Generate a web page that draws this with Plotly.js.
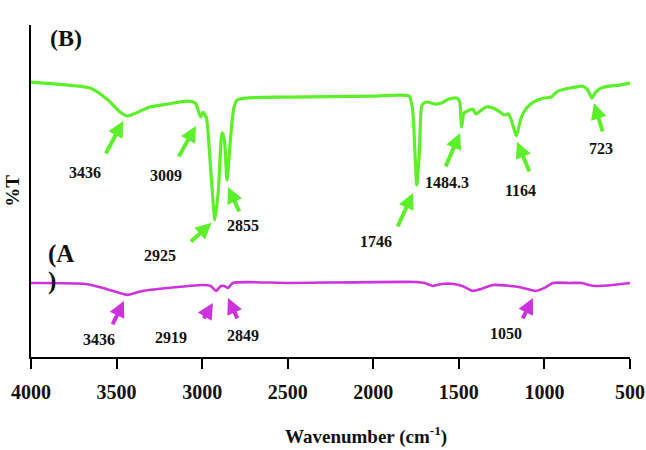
<!DOCTYPE html>
<html>
<head>
<meta charset="utf-8">
<script src="https://cdn.plot.ly/plotly-3.0.1.min.js"></script>
<style>html,body{margin:0;padding:0;background:#fff;}#chart{width:646px;height:450px;}</style>
</head>
<body>
<div id="chart"></div>
<script>
// Wavenumbers (cm-1) and %T (arbitrary offset units)
const wnB = [4000,3850,3655,3550,3480,3436,3400,3305,3200,3088,3040,3009,2995,2975,2950,2925,2905,2884,2870,2855,2835,2815,2796,2750,2500,2000,1850,1790,1770,1746,1730,1715,1690,1640,1600,1560,1530,1510,1495,1484,1470,1450,1420,1400,1375,1340,1300,1260,1235,1210,1190,1164,1140,1120,1080,1040,1000,960,930,880,820,780,750,723,700,670,620,560,500];
const tB  = [82.8,82.2,81.0,77.4,73.8,72.6,73.2,75.3,76.2,77.1,76.5,72.3,73.8,72.0,56.3,41.3,50.4,67.5,65.4,53.3,65.4,75.0,77.4,78.0,78.3,78.6,78.9,78.6,74.4,51.8,62.3,75.9,76.8,76.2,76.5,77.7,78.0,78.0,76.8,69.3,73.5,74.1,74.7,73.2,74.1,75.3,75.0,73.8,72.9,73.2,70.8,66.6,71.4,73.8,76.2,77.4,78.0,78.3,79.8,80.7,81.3,81.6,80.7,78.0,79.8,81.0,81.6,81.9,82.5];

const wnA = [4000,3680,3560,3436,3350,3200,3000,2950,2919,2890,2870,2849,2820,2500,1750,1700,1650,1600,1530,1480,1420,1370,1300,1200,1150,1080,1050,1000,950,850,780,740,700,600,500];
const tA  = [22.3,22.0,20.5,18.7,19.9,20.8,21.7,21.4,19.9,21.4,21.4,20.8,22.3,22.3,22.6,22.3,21.4,22.0,22.0,21.4,19.9,20.5,21.7,21.4,21.1,20.2,19.9,20.8,22.3,22.3,22.3,21.7,21.4,21.7,22.3];

const tickVals = [4000,3500,3000,2500,2000,1500,1000,500];
const tickText = ['4000','3500','3000','2500','2000','1500','1000','500'];

// Peak labels
const peaksB = ['3436','3009','2925','2855','1746','1484.3','1164','723'];
const peaksA = ['3436','2919','2849','1050'];

const GREEN = '#5cf02a';
const MAG = '#cc33dd';
const serif = 'Liberation Serif, Times New Roman, serif';

const traces = [
  {x: wnB, y: tB, mode: 'lines', line: {color: GREEN, width: 3.2, shape: 'spline', smoothing: 0.6}, hoverinfo: 'skip'},
  {x: wnA, y: tA, mode: 'lines', line: {color: MAG, width: 2.6, shape: 'spline', smoothing: 0.6}, hoverinfo: 'skip'}
];

function txt(text, x, y, size, xref, yref) {
  return {text: text, x: x, y: y, xref: xref || 'x', yref: yref || 'y', showarrow: false,
    font: {family: serif, size: size || 16, color: '#111', weight: 'bold'}};
}
function arr(x, y, ax, ay, color) {
  return {text: '', x: x, y: y, xref: 'x', yref: 'y', ax: ax, ay: ay, showarrow: true,
    arrowhead: 2, arrowsize: 0.8, arrowwidth: 4, arrowcolor: color};
}

const ann = [
  txt('(B)', 3795, 96, 24),
  txt('(A', 3825, 31.0, 25),
  txt(')', 3880, 22.9, 25),
  txt(peaksB[0], 3684, 55.7), arr(3462, 71.1, -18, 34, GREEN),
  txt(peaksB[1], 3211, 54.8), arr(3036, 69.6, -18, 32, GREEN),
  txt(peaksB[2], 3246, 30.7), arr(2945, 40.4, -22, 20, GREEN),
  txt(peaksB[3], 2761, 39.5), arr(2849, 51.2, 12, 26, GREEN),
  txt(peaksB[4], 1984, 34.9), arr(1768, 49.4, -16, 35, GREEN),
  txt(peaksB[5], 1569, 52.7), arr(1493, 67.5, -15, 35, GREEN),
  txt(peaksB[6], 1137, 50.3), arr(1160, 64.8, 13, 31, GREEN),
  txt(peaksB[7], 669, 62.9), arr(710, 76.5, 9, 30, GREEN),
  txt(peaksA[0], 3603, 5.4), arr(3457, 16.9, -12, 25, MAG),
  txt(peaksA[1], 3182, 6.0), arr(2937, 16.3, -10, 17, MAG),
  txt(peaksA[2], 2761, 6.6), arr(2849, 17.8, 10, 22, MAG),
  txt(peaksA[3], 1224, 7.2), arr(1067, 17.8, -11, 22, MAG),
  Object.assign(txt('Wavenumber (cm<sup>-1</sup>)', 0.559, -0.237, 19, 'paper', 'paper'), {yanchor: 'middle'})
];

const layout = {
  width: 646, height: 450,
  margin: {l: 31, r: 16, t: 25, b: 93},
  paper_bgcolor: '#fff', plot_bgcolor: '#fff',
  showlegend: false,
  xaxis: {
    range: [4000, 500], tickvals: tickVals, ticktext: tickText,
    ticks: 'outside', ticklen: 10, tickwidth: 2, tickcolor: '#000',
    ticklabelstandoff: 6,
    showline: true, linecolor: '#000', linewidth: 2, showgrid: false, zeroline: false,
    tickfont: {family: serif, size: 20, color: '#111', weight: 'bold'}
  },
  yaxis: {
    range: [0, 100], showticklabels: false, ticks: '',
    showline: true, linecolor: '#000', linewidth: 2, showgrid: false, zeroline: false,
    title: {text: '%T', standoff: 4, font: {family: serif, size: 19, color: '#111', weight: 'bold'}}
  },
  annotations: ann
};

Plotly.newPlot('chart', traces, layout, {displayModeBar: false, staticPlot: true});
</script>
</body>
</html>
